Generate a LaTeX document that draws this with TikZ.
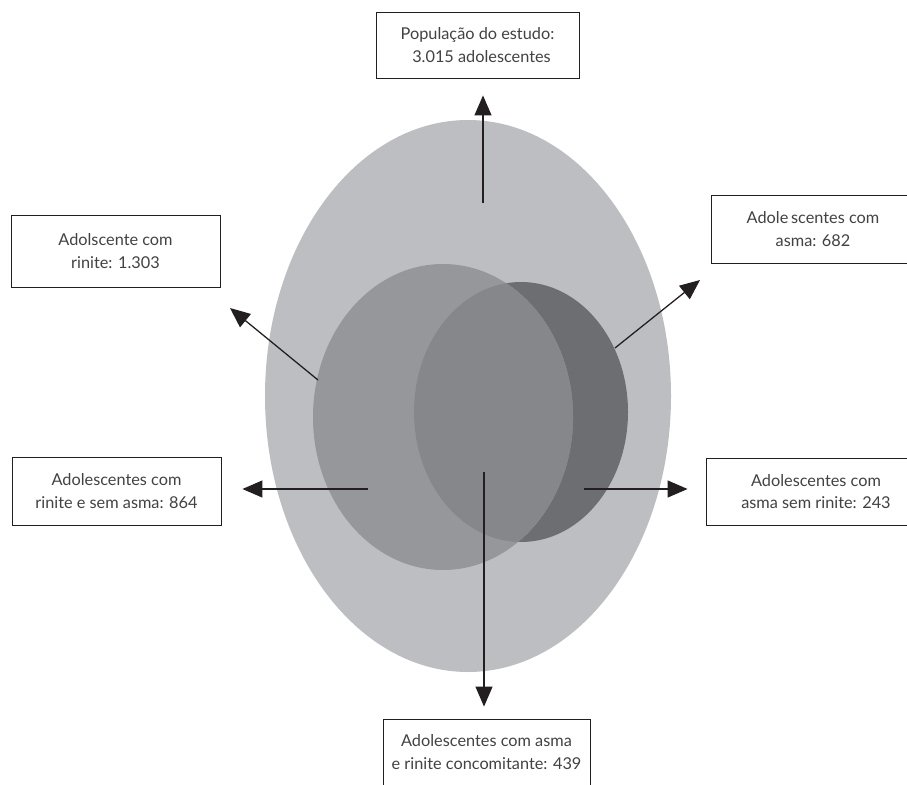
\documentclass[tikz,border=0pt]{standalone}
\usepackage{fontspec}
\setmainfont{Lato}
\usetikzlibrary{arrows.meta}
\definecolor{popfill}{HTML}{BDBEC2}
\definecolor{rinfill}{HTML}{96979B}
\definecolor{asmfill}{HTML}{6D6E72}
\definecolor{bothfill}{HTML}{86878B}
\definecolor{ink}{HTML}{231F20}
\tikzset{
  infobox/.style={draw=ink, line width=0.9pt, fill=white, text=ink!85, align=center,
    minimum height=66pt, font=\fontsize{16.3}{22.5}\selectfont},
  arr/.style={draw=ink, line width=1.3pt, -{Triangle[length=20pt,width=17pt]}}
}
\begin{document}
\begin{tikzpicture}[x=1pt,y=-1pt]
                \useasboundingbox (0,0) rectangle (907,784);
                % conjuntos
                \fill[popfill] (468,396) ellipse (203 and 276);
                \fill[asmfill] (521,412) ellipse (107 and 130);
                \fill[rinfill] (443,417) ellipse (130 and 153);
                \begin{scope}
                \clip (521,412) ellipse (107 and 130);
                \fill[bothfill] (443,417) ellipse (130 and 153);
                \end{scope}
                % caixas
                \node[infobox, minimum width=203pt] (pop) at (477.5,45) {População do estudo:\\ \hspace{8pt}3.015 adolescentes};
                \node[infobox, minimum width=209pt, minimum height=72pt] (rin) at (115.5,251) {Adolscente com\\rinite: 1.303};
                \node[infobox, minimum width=204pt, minimum height=68pt] (asm) at (813,229) {Adole\,scentes com\\asma: 682};
                \node[infobox, minimum width=209pt, minimum height=68pt] (rsa) at (116.5,491) {Adolescentes com\\rinite e sem asma: 864};
                \node[infobox, minimum width=220pt, minimum height=67pt] (asr) at (816,491.5) {Adolescentes com\\asma sem rinite: 243};
                \node[infobox, minimum width=207pt] (both) at (486.5,752) {Adolescentes com asma\\e rinite concomitante: 439};
                % setas
                \coordinate (cPop) at (483,203);
                \coordinate (cRin) at (318,380);
                \coordinate (tRin) at (230,308);
                \coordinate (cAsm) at (615,348);
                \coordinate (tAsm) at (700,280);
                \coordinate (cRsa) at (368,489);
                \coordinate (cAsr) at (584,489);
                \coordinate (cBoth) at (484,472);
                \draw[arr, shorten >=17pt] (cPop) -- (cPop |- pop.south);
                \draw[arr] (cRin) -- (tRin);
                \draw[arr] (cAsm) -- (tAsm);
                \draw[arr, shorten >=21pt] (cRsa) -- (cRsa -| rsa.east);
                \draw[arr, shorten >=18pt] (cAsr) -- (cAsr -| asr.west);
                \draw[arr, shorten >=12pt] (cBoth) -- (cBoth |- both.north);
\end{tikzpicture}
\end{document}
